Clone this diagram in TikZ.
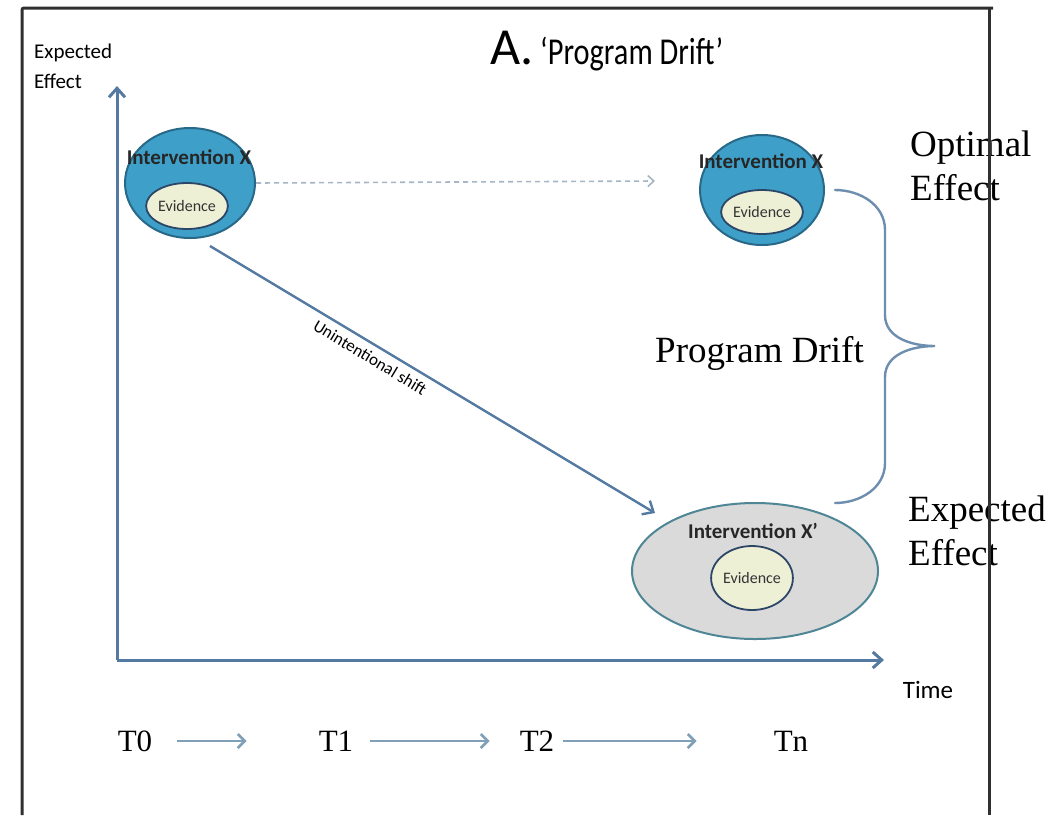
\documentclass[tikz,border=0pt]{standalone}
\usepackage{fontspec}
\setmainfont{Liberation Serif}
\newfontfamily\calib{Carlito}
\usetikzlibrary{positioning,arrows.meta,shapes.geometric,calc}
\definecolor{axisblue}{RGB}{84,122,162}
\definecolor{tealfill}{RGB}{62,160,200}
\definecolor{tealline}{RGB}{40,104,136}
\definecolor{evfill}{RGB}{238,240,214}
\definecolor{evline}{RGB}{44,70,104}
\definecolor{grayfill}{RGB}{218,218,218}
\definecolor{grayline}{RGB}{78,134,150}
\definecolor{dashgray}{RGB}{166,182,198}
\definecolor{tarrow}{RGB}{128,160,184}
\definecolor{framegray}{RGB}{48,48,48}
\tikzset{
  outer/.style  = {ellipse, draw=tealline, fill=tealfill, line width=2pt, inner sep=0pt},
  gouter/.style = {ellipse, draw=grayline, fill=grayfill, line width=2pt, inner sep=0pt},
  evid/.style   = {ellipse, draw=evline, fill=evfill, line width=1.8pt, inner sep=0pt, text=black!80, font=\calib\fontsize{16}{16}\selectfont},
  itext/.style  = {inner sep=0pt, text=black!85, font=\calib\bfseries\fontsize{21}{21}\selectfont},
  stext/.style  = {inner sep=0pt, align=left, font=\calib\fontsize{21}{30}\selectfont},
  rlabel/.style = {inner sep=0pt, align=left, font=\fontsize{37}{44}\selectfont},
  tlabel/.style = {inner sep=0pt, font=\fontsize{31}{31}\selectfont},
  axis/.style   = {-{Straight Barb[length=9pt,width=16pt]}, line width=3pt, draw=axisblue},
  tarr/.style   = {-{Straight Barb[length=7pt,width=14pt]}, line width=2.6pt, draw=tarrow},
  dasharr/.style= {-{Straight Barb[length=6pt,width=11pt]}, line width=1.6pt, draw=dashgray, dash pattern=on 5pt off 4pt},
  brace/.style  = {line width=2.4pt, draw=axisblue!85, line cap=round},
}

\begin{document}
\begin{tikzpicture}[x=1pt, y=-1pt]
  \useasboundingbox (0,0) rectangle (1054,815);
  \fill[white] (0,0) rectangle (1054,815);

  % axes
  \coordinate (o) at (117,660);
  \coordinate (ytop) at (117,86);
  \coordinate (xend) at (884,660);
  \draw[axis] (o) -- (ytop);
  \draw[axis] (o) -- (xend);
  \node[stext, anchor=north west] (ylab) at (34,44) {Expected\\Effect};
  \node[inner sep=0pt, font=\calib\fontsize{25}{25}\selectfont] (time) at (928,690) {Time};

  % title
  \node[inner sep=0pt, anchor=base west, font=\calib\fontsize{52}{52}\selectfont] (ta) at (490,64) {A.};
  \node[inner sep=0pt, anchor=base west, font=\calib\fontsize{38}{38}\selectfont] (tb) at (540,64) {\scalebox{0.8}[1]{‘Program Drift’}};

  % interventions
  \node[outer, minimum width=130pt, minimum height=110pt] (c1) at (190,183) {};
  \node[evid, minimum width=74pt, minimum height=46pt] (e1) at (187,206) {Evidence};
  \node[itext] (i1) at (189,157) {Intervention X};

  \node[outer, minimum width=124pt, minimum height=110pt] (c2) at (762,190) {};
  \node[evid, minimum width=74pt, minimum height=44pt] (e2) at (762,212) {Evidence};
  \node[itext] (i2) at (761,161) {Intervention X};

  \node[gouter, minimum width=246pt, minimum height=136pt] (c3) at (755,571) {};
  \node[evid, minimum width=78pt, minimum height=64pt] (e3) at (752,578) {Evidence};
  \node[itext] (i3) at (753,531) {Intervention X’};

  % shifts
  \coordinate (dend) at (655,181);
  \draw[dasharr] (c1.east) -- (dend);
  \coordinate (sa) at (210,246);
  \coordinate (sb) at (655,513);
  \draw[axis, line width=2.4pt] (sa) -- node[pos=0.375, sloped, below=6pt, inner sep=0pt, font=\calib\fontsize{17}{17}\selectfont] (shift) {Unintentional shift} (sb);

  % brace
  \coordinate (bt) at (835,190);
  \coordinate (btip) at (935,346);
  \coordinate (bb) at (835,503);
  \draw[brace] (bt) to[out=0,in=90] (885,230) -- (885,315) to[out=-90,in=180] (btip)
    to[out=180,in=90] (885,377) -- (885,463) to[out=-90,in=0] (bb);

  \node[rlabel, anchor=base west] (opt) at (910,200) {Optimal\\Effect};
  \node[rlabel, anchor=base east] (drift) at (864,362) {Program Drift};
  \node[rlabel, anchor=base west] (exp) at (908,565) {Expected\\Effect};

  % time points
  \node[tlabel] (t0) at (135,741) {T0};
  \node[tlabel] (t1) at (336,741) {T1};
  \node[tlabel] (t2) at (537,741) {T2};
  \node[tlabel] (tn) at (791,741) {Tn};
  \draw[tarr, shorten <=25pt, shorten >=72pt] (t0) -- (t1);
  \draw[tarr, shorten <=17pt, shorten >=30pt] (t1) -- (t2);
  \draw[tarr, shorten <=9pt, shorten >=77pt] (t2) -- (tn);

  % frame
  \draw[framegray, line width=3pt, rounded corners=2pt] (22,815) -- (22,8) -- (993,8);
  \draw[framegray, line width=3pt] (989,8) -- (989,815);
\end{tikzpicture}
\end{document}
